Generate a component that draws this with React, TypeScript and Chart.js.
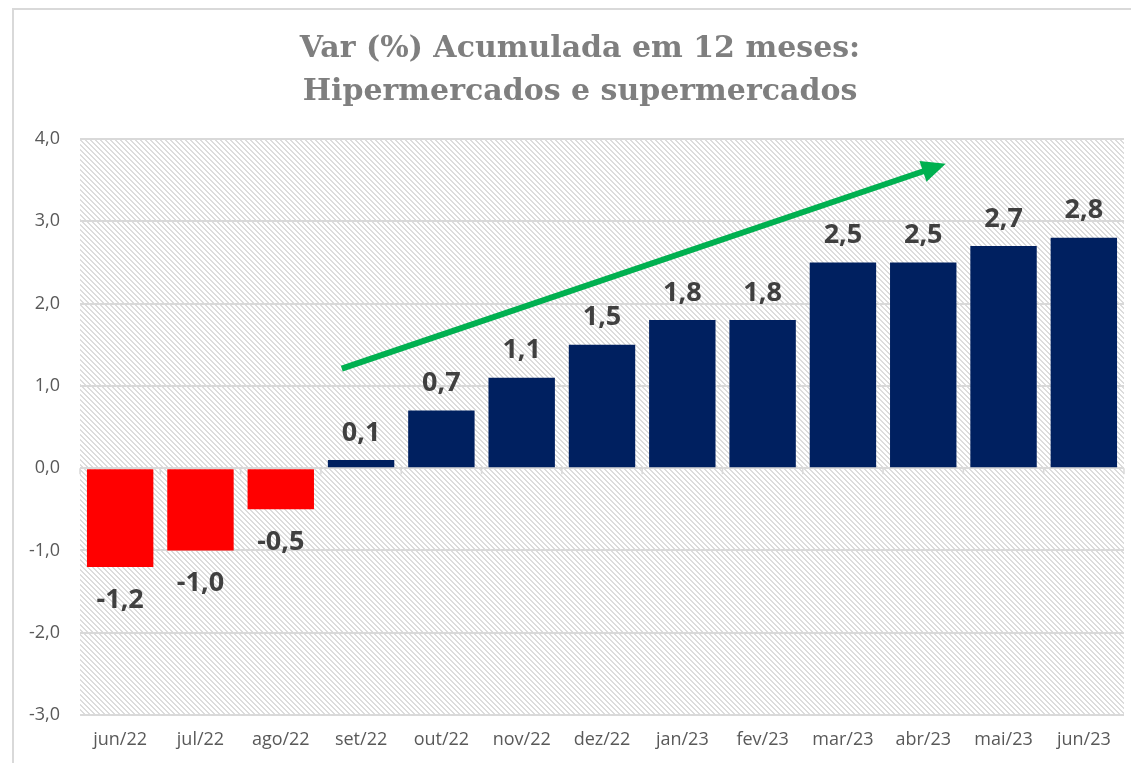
import React, { useEffect, useRef } from 'react';
import { Chart, registerables } from 'chart.js';

Chart.register(...registerables);

const categories = ['jun/22', 'jul/22', 'ago/22', 'set/22', 'out/22', 'nov/22', 'dez/22', 'jan/23', 'fev/23', 'mar/23', 'abr/23', 'mai/23', 'jun/23'];
const values = [-1.2, -1.0, -0.5, 0.1, 0.7, 1.1, 1.5, 1.8, 1.8, 2.5, 2.5, 2.7, 2.8];
const yTicks = [-3, -2, -1, 0, 1, 2, 3, 4];
const titleLines = ['Var (%) Acumulada em 12 meses:', 'Hipermercados e supermercados'];
// trend arrow, in data units: [category index, value]
const arrowFrom = [2.76, 1.21];
const arrowTo = [10.28, 3.7];

const NEG = '#FF0000';
const POS = '#002060';
const GRID = '#d9d9d9';
const fmt = (v: number) => v.toFixed(1).replace('.', ',');

function makePattern(ctx: CanvasRenderingContext2D) {
  const n = 5;
  const c = document.createElement('canvas');
  c.width = n;
  c.height = n;
  const g = c.getContext('2d')!;
  g.fillStyle = '#ffffff';
  g.fillRect(0, 0, n, n);
  g.fillStyle = '#dcdcdc';
  for (let i = 0; i < n; i++) {
    g.fillRect(i, i, 1, 1);
    g.fillRect((i + 1) % n, i, 1, 1);
  }
  return ctx.createPattern(c, 'repeat');
}

const customPlugin = {
  id: 'custom',
  beforeDraw(chart: any) {
    const { ctx, chartArea: a } = chart;
    ctx.save();
    ctx.fillStyle = '#ffffff';
    ctx.fillRect(0, 0, chart.width, chart.height);
    const p = makePattern(ctx);
    if (p) {
      ctx.fillStyle = p;
      ctx.fillRect(a.left, a.top, a.right - a.left, a.bottom - a.top);
    }
    // title
    ctx.fillStyle = '#7f7f7f';
    ctx.font = 'bold 30px "DejaVu Serif"';
    ctx.textAlign = 'center';
    ctx.textBaseline = 'middle';
    titleLines.forEach((t, i) => ctx.fillText(t, 580, 49 + i * 43));
    ctx.restore();
  },
  afterDatasetsDraw(chart: any) {
    const { ctx } = chart;
    const xs = chart.scales.x;
    const ys = chart.scales.y;
    const y0 = ys.getPixelForValue(0);
    ctx.save();
    // zero axis tick marks
    ctx.strokeStyle = GRID;
    ctx.lineWidth = 1.5;
    for (let i = 0; i <= categories.length; i++) {
      const x = xs.getPixelForValue(i - 0.5);
      ctx.beginPath();
      ctx.moveTo(x, y0);
      ctx.lineTo(x, y0 + 6);
      ctx.stroke();
    }
    // data labels
    ctx.fillStyle = '#404040';
    ctx.font = 'bold 27px "Open Sans"';
    ctx.textAlign = 'center';
    ctx.textBaseline = 'middle';
    const meta = chart.getDatasetMeta(0);
    meta.data.forEach((bar: any, i: number) => {
      const v = values[i];
      const y = v >= 0 ? bar.y - 27 : bar.y + 33;
      ctx.fillText(fmt(v), bar.x, y);
    });
    // arrow
    const x1 = xs.getPixelForValue(arrowFrom[0]);
    const y1 = ys.getPixelForValue(arrowFrom[1]);
    const x2 = xs.getPixelForValue(arrowTo[0]);
    const y2 = ys.getPixelForValue(arrowTo[1]);
    const ang = Math.atan2(y2 - y1, x2 - x1);
    const headLen = 24;
    const headHalf = 11;
    const bx = x2 - headLen * Math.cos(ang);
    const by = y2 - headLen * Math.sin(ang);
    ctx.strokeStyle = '#00B050';
    ctx.fillStyle = '#00B050';
    ctx.lineWidth = 6;
    ctx.lineCap = 'butt';
    ctx.beginPath();
    ctx.moveTo(x1, y1);
    ctx.lineTo(bx + 2 * Math.cos(ang), by + 2 * Math.sin(ang));
    ctx.stroke();
    ctx.beginPath();
    ctx.moveTo(x2, y2);
    ctx.lineTo(bx + headHalf * Math.sin(ang), by - headHalf * Math.cos(ang));
    ctx.lineTo(bx - headHalf * Math.sin(ang), by + headHalf * Math.cos(ang));
    ctx.closePath();
    ctx.fill();
    ctx.restore();
  },
};

export default function App() {
  const ref = useRef<HTMLCanvasElement>(null);
  useEffect(() => {
    document.body.style.margin = '0';
    document.body.style.overflow = 'hidden';
    const chart = new Chart(ref.current!, {
      type: 'bar',
      data: {
        labels: categories,
        datasets: [
          {
            data: values,
            backgroundColor: values.map((v) => (v < 0 ? NEG : POS)),
            borderWidth: 0,
            categoryPercentage: 1,
            barPercentage: 0.827,
          },
        ],
      },
      options: {
        responsive: false,
        animation: false,
        layout: { padding: { top: 139, left: 0, right: 7, bottom: 0 } },
        plugins: {
          legend: { display: false },
          tooltip: { enabled: false },
          title: { display: false },
        },
        scales: {
          x: {
            grid: { display: false, drawTicks: false },
            border: { display: false },
            ticks: {
              color: '#595959',
              font: { family: 'Open Sans', size: 18 },
              padding: 14,
              maxRotation: 0,
              autoSkip: false,
            },
            afterFit: (s: any) => {
              s.height = 48;
            },
          },
          y: {
            min: -3,
            max: 4,
            afterBuildTicks: (s: any) => {
              s.ticks = yTicks.map((v) => ({ value: v }));
            },
            grid: { color: GRID, lineWidth: 2, drawTicks: false },
            border: { display: false },
            ticks: {
              color: '#595959',
              font: { family: 'Open Sans', size: 18 },
              padding: 20,
              callback: (v: any) => fmt(Number(v)),
            },
            afterFit: (s: any) => {
              s.width = 80;
            },
          },
        },
      },
      plugins: [customPlugin],
    });
    return () => chart.destroy();
  }, []);
  return (
    <div style={{ position: 'relative', width: 1131, height: 763, overflow: 'hidden' }}>
      <canvas ref={ref} width={1131} height={763} style={{ display: 'block' }} />
      <div
        style={{
          position: 'absolute',
          left: 12,
          top: 8,
          width: 1200,
          height: 800,
          borderTop: '2px solid #d9d9d9',
          borderLeft: '2px solid #d9d9d9',
          pointerEvents: 'none',
        }}
      />
    </div>
  );
}
